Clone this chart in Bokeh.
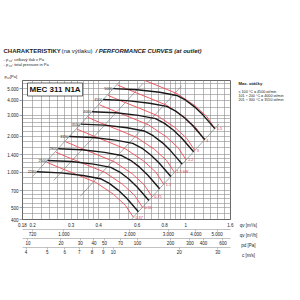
from bokeh.plotting import figure
from bokeh.layouts import column, row
from bokeh.models import LogAxis, LinearAxis, Range1d, LogScale, FixedTicker, Label, ColumnDataSource
from bokeh.embed import file_html
from bokeh.resources import INLINE
from bokeh.core.properties import value

FONT = "Liberation Sans"

# ---------------- data ----------------
rpm_names = ["2240", "2500", "2800", "3150", "3550", "4000", "4500", "5000"]
q_2240 = [0.209, 0.269, 0.340, 0.408, 0.448, 0.493, 0.538, 0.608]
p_2240 = [1004, 983, 935, 879, 803, 702, 602, 464]
q_2500 = [0.234, 0.300, 0.380, 0.455, 0.500, 0.550, 0.600, 0.679]
p_2500 = [1250, 1225, 1165, 1095, 1000, 875, 750, 578]
q_2800 = [0.262, 0.336, 0.426, 0.510, 0.560, 0.616, 0.672, 0.760]
p_2800 = [1568, 1537, 1461, 1374, 1254, 1098, 941, 724]
q_3150 = [0.294, 0.378, 0.479, 0.573, 0.630, 0.693, 0.756, 0.855]
p_3150 = [1985, 1945, 1850, 1738, 1588, 1389, 1191, 917]
q_3550 = [0.332, 0.426, 0.540, 0.646, 0.710, 0.781, 0.852, 0.963]
p_3550 = [2521, 2470, 2349, 2208, 2016, 1764, 1512, 1164]
q_4000 = [0.374, 0.480, 0.608, 0.728, 0.800, 0.880, 0.960, 1.086]
p_4000 = [3200, 3136, 2982, 2803, 2560, 2240, 1920, 1478]
q_4500 = [0.420, 0.540, 0.684, 0.819, 0.900, 0.990, 1.080, 1.221]
p_4500 = [4050, 3969, 3775, 3548, 3240, 2835, 2430, 1871]
q_5000 = [0.467, 0.600, 0.760, 0.910, 1.000, 1.100, 1.200, 1.357]
p_5000 = [5000, 4900, 4660, 4380, 4000, 3500, 3000, 2310]

kw_names = ["0.37", "0.55", "0.75", "1.1", "1.5 kW", "2.2", "3", "4", "5.5"]
q_kw037 = [0.232, 0.263, 0.324, 0.388, 0.468, 0.530, 0.577]
p_kw037 = [1208, 1096, 939, 820, 651, 526, 418]
q_kw055 = [0.256, 0.290, 0.357, 0.427, 0.515, 0.584, 0.635]
p_kw055 = [1465, 1329, 1139, 995, 789, 638, 506]
q_kw075 = [0.283, 0.321, 0.395, 0.472, 0.570, 0.646, 0.703]
p_kw075 = [1795, 1628, 1395, 1219, 967, 782, 620]
q_kw11 = [0.319, 0.362, 0.446, 0.534, 0.644, 0.730, 0.794]
p_kw11 = [2289, 2076, 1779, 1554, 1233, 998, 791]
q_kw15 = [0.358, 0.405, 0.500, 0.597, 0.721, 0.817, 0.889]
p_kw15 = [2870, 2603, 2231, 1949, 1546, 1251, 992]
q_kw22 = [0.404, 0.458, 0.565, 0.675, 0.815, 0.924, 1.004]
p_kw22 = [3663, 3322, 2848, 2487, 1974, 1596, 1266]
q_kw30 = [0.442, 0.501, 0.618, 0.739, 0.892, 1.011, 1.099]
p_kw30 = [4389, 3981, 3412, 2980, 2365, 1913, 1517]
q_kw40 = [0.489, 0.554, 0.683, 0.816, 0.985, 1.117, 1.215]
p_kw40 = [5359, 4860, 4165, 3638, 2887, 2335, 1852]
q_kw55 = [0.546, 0.619, 0.763, 0.912, 1.101, 1.248, 1.357]
p_kw55 = [6690, 6067, 5200, 4542, 3604, 2915, 2312]

diag_left_q = [0.200, 0.500]
diag_left_p = [917, 5732]
diag_mid1_q = [0.250, 0.640]
diag_mid1_p = [851, 5575]
diag_mid2_q = [0.330, 0.960]
diag_mid2_p = [626, 5300]
diag_right_q = [0.550, 1.420]
diag_right_p = [380, 2532]

qs_ticks = [0.18, 0.2, 0.3, 0.4, 0.6, 0.8, 1, 1.6]
qs_labels = ["0.18", "0.2", "0.3", "0.4", "0.6", "0.8", "1", "1.6"]
p_ticks = [400, 500, 700, 1000, 1400, 2000, 3000, 4000, 5000]
p_labels = ["400", "500", "700", "1.000", "1.400", "2.000", "3.000", "4.000", "5.000"]
qh_ticks = [720, 1000, 2000, 3000, 4000, 5000]
qh_labels = ["720", "1.000", "2.000", "3.000", "4.000", "5.000"]
pd_ticks = [10, 20, 30, 40, 50, 70, 100, 200, 300, 400, 600]
c_ticks = [4, 5, 6, 7, 8, 9, 10, 20, 30]
unit_names = ["qv [m³/s]", "qv [m³/h]", "pd [Pa]", "c [m/s]"]

grid_q = [0.18, 0.2, 0.22, 0.24, 0.26, 0.28, 0.3, 0.32, 0.34, 0.36, 0.38, 0.4, 0.45, 0.5,
          0.55, 0.6, 0.65, 0.7, 0.75, 0.8, 0.85, 0.9, 0.95, 1.0, 1.1, 1.2, 1.3, 1.4, 1.5, 1.6]
grid_p = [400, 450, 500, 550, 600, 650, 700, 800, 900, 1000, 1100, 1200, 1300, 1400, 1600,
          1800, 2000, 2200, 2400, 2600, 2800, 3000, 3500, 4000, 4500, 5000, 5500]

# ---------------- geometry ----------------
TOP_H = 79
L, FW, FH = 22, 208, 139
MAIN_W = 236
MAIN_H = 300 - TOP_H
BT = 1
BB = MAIN_H - BT - FH
FRAME_TOP = TOP_H + BT
FRAME_BOTTOM = FRAME_TOP + FH
RW = 300 - MAIN_W


def put(f, X, Y, s, size=4.0, style="normal", color="#222", align="left"):
    f.text(x=[X], y=[Y], text=[s], text_font=value(FONT), text_font_size=f"{size}px",
           text_font_style=style, text_color=color, text_align=align,
           text_baseline="middle")


def style_axis(ax, size="4.5px"):
    ax.major_label_text_font = FONT
    ax.major_label_text_font_size = size
    ax.major_label_text_color = "#222"
    ax.axis_line_color = "#666"
    ax.axis_line_width = 0.6
    ax.major_tick_line_color = "#666"
    ax.major_tick_line_width = 0.6
    ax.minor_tick_line_color = None
    ax.minor_tick_out = 0
    ax.minor_tick_in = 0
    ax.axis_label_standoff = 0


# ---------------- top text band ----------------
top = figure(width=300, height=TOP_H, x_range=Range1d(0, 300), y_range=Range1d(TOP_H, 0),
             x_axis_location=None, y_axis_location=None, min_border=0, output_backend="svg",
             toolbar_location=None, background_fill_color="white", border_fill_color="white")
top.outline_line_color = None
top.xgrid.visible = False
top.ygrid.visible = False
put(top, 3, 50, "CHARAKTERISTIKY", 6, "bold")
put(top, 61, 50, "(na výtlaku)", 6, "normal")
put(top, 95, 50, "/ PERFORMANCE CURVES (at outlet)", 6, "bold italic")
put(top, 3, 59, "- p", 4)
put(top, 8.6, 60.2, "cz", 2.8)
put(top, 11.5, 59, ": celkový tlak v Pa", 4)
put(top, 3, 64, "- p", 4)
put(top, 8.6, 65.2, "cz", 2.8)
put(top, 11.5, 64, ": total pressure in Pa", 4)
put(top, 4, 75.5, "p", 4)
put(top, 6.3, 76.7, "cz", 2.8)
put(top, 9.5, 75.5, "[Pa]", 4)

# ---------------- main chart ----------------
p = figure(x_axis_type="log", y_axis_type="log", x_range=(0.18, 1.6), y_range=(400, 5850),
           frame_width=FW, frame_height=FH, min_border_left=L, min_border_right=MAIN_W - L - FW,
           min_border_top=BT, min_border_bottom=BB, output_backend="svg",
           toolbar_location=None, background_fill_color="white", border_fill_color="white")
p.outline_line_color = "#444"
p.outline_line_width = 0.8

p.xgrid.ticker = FixedTicker(ticks=grid_q)
p.ygrid.ticker = FixedTicker(ticks=grid_p)
for g in (p.xgrid, p.ygrid):
    g.grid_line_color = "#8c8c8c"
    g.grid_line_width = 0.6

ya = p.yaxis[0]
ya.ticker = FixedTicker(ticks=p_ticks)
ya.major_label_overrides = {t: s for t, s in zip(p_ticks, p_labels)}
style_axis(ya)
ya.major_tick_out = 3
ya.major_tick_in = 0
ya.major_label_standoff = 1

xa = p.xaxis[0]
xa.ticker = FixedTicker(ticks=qs_ticks)
xa.major_label_overrides = {t: s for t, s in zip(qs_ticks, qs_labels)}
style_axis(xa)
xa.major_tick_out = 0
xa.major_tick_in = 0
xa.major_label_standoff = 3

p.extra_x_ranges = {"h": Range1d(648, 5760), "pd": Range1d(8.91, 704), "c": Range1d(3.854, 34.26)}
p.extra_x_scales = {"h": LogScale(), "pd": LogScale(), "c": LogScale()}

ax_h = LogAxis(x_range_name="h", ticker=FixedTicker(ticks=qh_ticks))
ax_h.major_label_overrides = {t: s for t, s in zip(qh_ticks, qh_labels)}
ax_pd = LogAxis(x_range_name="pd", ticker=FixedTicker(ticks=pd_ticks))
ax_c = LogAxis(x_range_name="c", ticker=FixedTicker(ticks=c_ticks))
for ax in (ax_h, ax_pd, ax_c):
    style_axis(ax)
    ax.major_tick_out = 2
    ax.major_tick_in = 0
    ax.major_label_standoff = 0
    ax.axis_line_color = "#999"
    ax.major_tick_line_color = "#999"
    p.add_layout(ax, "below")

for dq, dp in ((diag_left_q, diag_left_p), (diag_mid1_q, diag_mid1_p),
               (diag_mid2_q, diag_mid2_p), (diag_right_q, diag_right_p)):
    p.line(dq, dp, line_color="#707070", line_width=0.6)

red_q = [q_kw037, q_kw055, q_kw075, q_kw11, q_kw15, q_kw22, q_kw30, q_kw40, q_kw55]
red_p = [p_kw037, p_kw055, p_kw075, p_kw11, p_kw15, p_kw22, p_kw30, p_kw40, p_kw55]
for rq, rp in zip(red_q, red_p):
    p.line(rq, rp, line_color="#ee4a55", line_width=0.9)

blk_q = [q_2240, q_2500, q_2800, q_3150, q_3550, q_4000, q_4500, q_5000]
blk_p = [p_2240, p_2500, p_2800, p_3150, p_3550, p_4000, p_4500, p_5000]
for bq, bp in zip(blk_q, blk_p):
    p.line(bq, bp, line_color="#1a1a1a", line_width=1.4)

rpm_src = ColumnDataSource(dict(x=[c[0] for c in blk_q], y=[c[0] for c in blk_p], t=rpm_names))
p.text(x="x", y="y", text="t", source=rpm_src, text_font=value(FONT), text_font_size="3.6px",
       text_align="right", text_baseline="middle", x_offset=-1, text_color="#222")

kw_src = ColumnDataSource(dict(x=[c[-1] for c in red_q], y=[c[-1] for c in red_p], t=kw_names))
p.text(x="x", y="y", text="t", source=kw_src, text_font=value(FONT), text_font_size="3.8px",
       text_align="left", text_baseline="middle", x_offset=2, text_color="#e0303c")

p.add_layout(Label(x=27 - L, y=FRAME_BOTTOM - 89, x_units="screen", y_units="screen",
                   text="MEC 311 N1A", text_font=FONT, text_font_size="8px",
                   text_font_style="bold", text_color="#111", text_baseline="middle",
                   background_fill_color="white", border_line_color="#222",
                   border_line_width=0.7, padding=2))

# ---------------- right text band (frame aligned with the chart frame) ----------------
right = figure(x_range=Range1d(MAIN_W, 300), y_range=Range1d(FRAME_BOTTOM, FRAME_TOP),
               frame_width=RW, frame_height=FH, min_border_left=0, min_border_right=0,
               min_border_top=BT, min_border_bottom=BB, x_axis_location=None,
               y_axis_location=None, output_backend="svg", toolbar_location=None,
               background_fill_color="white", border_fill_color="white")
right.outline_line_color = None
right.xgrid.visible = False
right.ygrid.visible = False
put(right, 238, 83, "Max. otáčky", 4.2, "bold")
put(right, 238, 91, "≤ 100 °C = 4500 ot/min", 3.7)
put(right, 238, 95, "101 ÷ 200 °C = 4000 ot/min", 3.7)
put(right, 238, 99, "201 ÷ 300 °C = 3550 ot/min", 3.7)

for i, name in enumerate(unit_names):
    ax = LinearAxis(ticker=FixedTicker(ticks=[248]))
    ax.major_label_overrides = {248: name}
    style_axis(ax)
    ax.axis_line_color = None
    ax.major_tick_line_color = None
    ax.major_tick_in = 0
    if i == 0:
        ax.major_tick_out = 0
        ax.major_label_standoff = 3
    else:
        ax.major_tick_out = 2
        ax.major_label_standoff = 0
    right.add_layout(ax, "below")

layout = column(top, row(p, right, spacing=0), spacing=0)
open("out.html", "w").write(file_html(layout, INLINE))
